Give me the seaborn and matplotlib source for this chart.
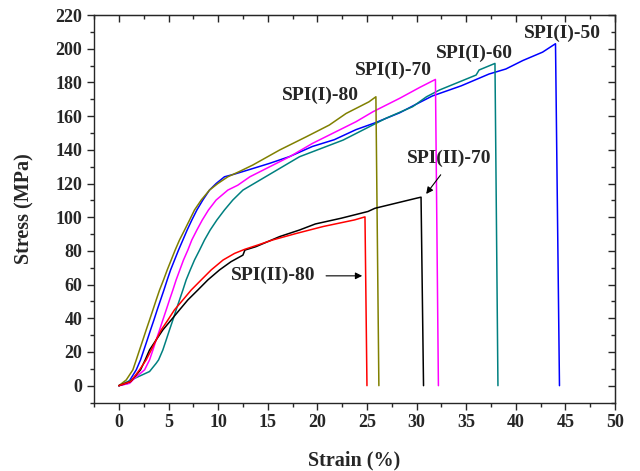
import matplotlib
matplotlib.use('Agg')
import matplotlib.pyplot as plt
from matplotlib.ticker import MultipleLocator, NullFormatter
import pandas as pd
import seaborn as sns

# Estilo base e fonte serifada em negrito (parecida com Times)
sns.set_style('ticks')
plt.rcParams['font.family'] = ['Liberation Serif', 'DejaVu Serif']
plt.rcParams['font.weight'] = 'bold'
plt.rcParams['axes.labelweight'] = 'bold'

# Curvas tensão-deformação (Strain %, Stress MPa)
spi1_50_x = [0, 0.91, 1.75, 2.18, 2.52, 2.86, 3.19, 3.53, 3.86, 4.2, 4.54, 4.87, 5.21, 5.61, 6.01,
             6.45, 6.88, 7.35, 7.86, 8.46, 9.13, 9.8, 10.64, 11.6, 13.0, 15.2, 17.2, 19.5, 21.7,
             23.9, 25.8, 28.3, 29.6, 31.6, 34.5, 37.3, 39.0, 40.7, 42.7, 44.0, 44.4]
spi1_50_y = [0, 1.4, 9.4, 15.3, 21.2, 27.2, 33.1, 39, 45, 50.9, 56.8, 62.8, 68.7, 74.6, 80.5,
             86.5, 92.4, 98.3, 104.3, 110.2, 116.1, 120, 124, 125.5, 128, 132, 136, 142, 146,
             152, 156, 162, 166, 172, 178, 185, 188, 193, 198, 203, 0]

spi1_60_x = [0, 1.24, 3.09, 3.76, 4.0, 4.43, 4.77, 5.1, 5.44, 5.77, 6.11, 6.45, 6.78, 7.19, 7.62,
             8.13, 8.63, 9.2, 9.87, 10.64, 11.48, 12.5, 14.2, 18.2, 22.6, 26.9, 29.6, 31.0, 32.3,
             36.0, 36.3, 37.9, 38.2]
spi1_60_y = [0, 3.4, 8.4, 13.3, 15.3, 21.2, 27.2, 33.1, 39, 45, 50.9, 56.8, 62.8, 68.7, 74.6,
             80.5, 86.5, 92.4, 98.3, 104.3, 110.2, 116.1, 122, 135.9, 145.8, 158.7, 165.6, 171.5, 175.5,
             184.4, 187.4, 191.3, 0]

spi1_70_x = [0, 1.08, 1.58, 2.59, 3.09, 3.43, 3.76, 4.1, 4.43, 4.77, 5.1, 5.44, 5.77, 6.14, 6.51,
             6.95, 7.35, 7.86, 8.4, 9.03, 9.8, 10.98, 11.98, 13.2, 17.2, 19.5, 23.9, 25.6, 28.3,
             30.3, 31.9, 32.2]
spi1_70_y = [0, 1.4, 4.4, 9.4, 15.3, 21.2, 27.2, 33.1, 39, 45, 50.9, 56.8, 62.8, 68.7, 74.6,
             80.5, 86.5, 92.4, 98.3, 104.3, 110.2, 116.1, 119, 124, 135.9, 143.8, 156.7, 162.6, 170.6,
             177, 181.8, 0]

spi1_80_x = [0, 0.74, 1.41, 1.75, 2.08, 2.42, 2.75, 3.09, 3.43, 3.76, 4.1, 4.5, 4.87, 5.27, 5.67,
             6.11, 6.62, 7.12, 7.62, 8.3, 9.13, 9.97, 10.98, 12.1, 13.5, 16.2, 18.9, 21.2, 22.9,
             25.2, 25.9, 26.2]
spi1_80_y = [0, 3.4, 9.4, 15.3, 21.2, 27.2, 33.1, 39, 45, 50.9, 56.8, 62.8, 68.7, 74.6, 80.5,
             86.5, 92.4, 98.3, 104.3, 110.2, 116.1, 120, 124, 127, 131, 139.9, 147.8, 154.7, 161.6,
             168.5, 171.5, 0]

spi2_70_x = [0, 1.2, 2.18, 2.65, 3.09, 3.76, 4.43, 5.27, 6.11, 6.95, 7.96, 8.97, 10.14, 11.3, 12.5,
             12.7, 13.8, 16.2, 18.2, 19.8, 22.4, 25.1, 25.8, 29.3, 30.0, 30.45, 30.7]
spi2_70_y = [0, 2.5, 9.4, 15.3, 21.2, 27.2, 33.1, 39, 45, 50.9, 56.8, 62.8, 68.7, 73.6, 77.5,
             80.5, 82.5, 88.5, 92.4, 96, 99.4, 103.4, 105.3, 110.3, 111.3, 111.9, 0]

spi2_80_x = [0, 1.2, 2.08, 2.75, 3.26, 3.76, 4.27, 4.94, 5.6, 6.45, 7.29, 8.3, 9.3, 10.5, 11.65,
             12.66, 14.0, 15.5, 17.9, 20.6, 23.75, 24.8, 25.0]
spi2_80_y = [0, 2.5, 9.4, 15.3, 21.2, 27.2, 33.1, 39, 45, 50.9, 56.8, 62.8, 68.7, 74.6, 78.5,
             80.9, 83.5, 86.5, 90.4, 94.5, 98.4, 100.2, 0]

nomes = ['SPI(I)-50', 'SPI(I)-60', 'SPI(I)-70', 'SPI(I)-80', 'SPI(II)-70', 'SPI(II)-80']
cores = ['#0000FF', '#008080', '#FF00FF', '#808000', '#000000', '#FF0000']

series = [
    (spi1_50_x, spi1_50_y),
    (spi1_60_x, spi1_60_y),
    (spi1_70_x, spi1_70_y),
    (spi1_80_x, spi1_80_y),
    (spi2_70_x, spi2_70_y),
    (spi2_80_x, spi2_80_y),
]

# Montar um DataFrame longo para o seaborn
frames = []
for nome, (xs, ys) in zip(nomes, series):
    frames.append(pd.DataFrame({'Strain': xs, 'Stress': ys, 'Amostra': nome}))
df = pd.concat(frames, ignore_index=True)

fig, ax = plt.subplots(figsize=(6.4, 4.71), dpi=100)
fig.subplots_adjust(left=0.147, right=0.961, bottom=0.1454, top=0.968)

sns.lineplot(data=df, x='Strain', y='Stress', hue='Amostra', hue_order=nomes,
             palette=dict(zip(nomes, cores)), sort=False, estimator=None,
             legend=False, linewidth=1.1, ax=ax)

# Eixos
ax.set_xlim(-2.5, 50)
ax.set_ylim(-10, 220)
ax.xaxis.set_major_locator(MultipleLocator(5))
ax.xaxis.set_minor_locator(MultipleLocator(2.5))
ax.yaxis.set_major_locator(MultipleLocator(20))
ax.yaxis.set_minor_locator(MultipleLocator(10))
ax.tick_params(which='major', direction='out', length=5, width=1, labelsize=13)
ax.tick_params(which='minor', direction='out', length=3, width=1)
for s in ax.spines.values():
    s.set_linewidth(1.0)
    s.set_visible(True)

# Ticks espelhados no topo e à direita, apontando para dentro
topo = ax.secondary_xaxis('top')
topo.xaxis.set_major_locator(MultipleLocator(5))
topo.xaxis.set_minor_locator(MultipleLocator(2.5))
topo.xaxis.set_major_formatter(NullFormatter())
topo.tick_params(which='major', direction='in', length=5, width=1)
topo.tick_params(which='minor', direction='in', length=3, width=1)
direita = ax.secondary_yaxis('right')
direita.yaxis.set_major_locator(MultipleLocator(20))
direita.yaxis.set_minor_locator(MultipleLocator(10))
direita.yaxis.set_major_formatter(NullFormatter())
direita.tick_params(which='major', direction='in', length=5, width=1)
direita.tick_params(which='minor', direction='in', length=3, width=1)

ax.set_xlabel('Strain (%)', fontsize=14.5, fontweight='bold', labelpad=14)
ax.set_ylabel('Stress (MPa)', fontsize=14.5, fontweight='bold', labelpad=15)

# Rótulos das curvas
fs = 14
ax.text(44.7, 209.3, 'SPI(I)-50', ha='center', va='center', fontsize=fs, fontweight='bold')
ax.text(35.8, 197.3, 'SPI(I)-60', ha='center', va='center', fontsize=fs, fontweight='bold')
ax.text(27.7, 187.4, 'SPI(I)-70', ha='center', va='center', fontsize=fs, fontweight='bold')
ax.text(20.3, 172.1, 'SPI(I)-80', ha='center', va='center', fontsize=fs, fontweight='bold')
ax.text(33.3, 135.0, 'SPI(II)-70', ha='center', va='center', fontsize=fs, fontweight='bold')
ax.text(15.55, 65.2, 'SPI(II)-80', ha='center', va='center', fontsize=fs, fontweight='bold')

ax.annotate('', xy=(30.8, 112.5), xytext=(32.6, 126.5),
            arrowprops=dict(arrowstyle='-|>', color='black', lw=0.8, mutation_scale=10))
ax.annotate('', xy=(24.8, 65.2), xytext=(20.6, 65.2),
            arrowprops=dict(arrowstyle='-|>', color='black', lw=0.8, mutation_scale=10))

plt.savefig('out.png', dpi=100)
